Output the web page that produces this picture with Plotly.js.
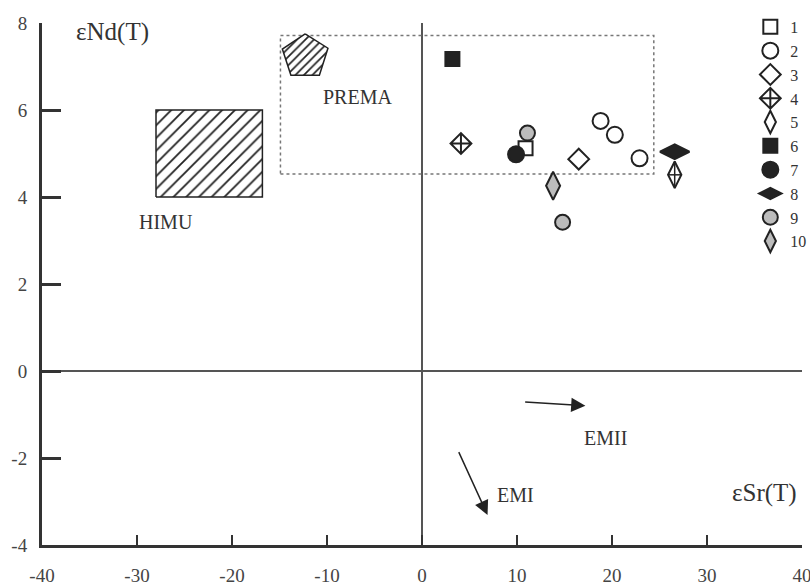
<!DOCTYPE html>
<html>
<head>
<meta charset="utf-8">
<script src="https://cdn.plot.ly/plotly-3.0.1.min.js"></script>
<style>html,body{margin:0;padding:0;background:#fff;}#chart{width:810px;height:585px;}</style>
</head>
<body>
<div id="chart"></div>
<script>
// ---- data ----
const seriesNames = ['1','2','3','4','5','6','7','8','9','10'];
const s1x = [10.9],              s1y = [5.12];
const s2x = [18.8, 20.3, 22.9],  s2y = [5.75, 5.43, 4.89];
const s3x = [16.5],              s3y = [4.87];
const s4x = [4.1],               s4y = [5.23];
const s5x = [26.6],              s5y = [4.51];
const s6x = [3.2],               s6y = [7.17];
const s7x = [9.9],               s7y = [4.98];
const s8x = [26.6],              s8y = [5.04];
const s9x = [11.1, 14.8],        s9y = [5.47, 3.42];
const s10x = [13.8],             s10y = [4.26];

const himuX = [-28, -16.8, -16.8, -28, -28];
const himuY = [4, 4, 6, 6, 4];
const premaBoxX = [-14.9, 24.4, 24.4, -14.9, -14.9];
const premaBoxY = [4.53, 4.53, 7.71, 7.71, 4.53];
const premaPentX = [-12.3, -9.9, -10.8, -13.8, -14.7, -12.3];
const premaPentY = [7.75, 7.42, 6.80, 6.80, 7.40, 7.75];

const xTicks = [-40, -30, -20, -10, 0, 10, 20, 30, 40];
const yTicks = [-4, -2, 0, 2, 4, 6, 8];

const labelText = ['HIMU', 'PREMA', 'EMII', 'EMI'];
const labelX = [-26.9, -6.8, 19.3, 9.8];
const labelY = [3.43, 6.30, -1.54, -2.85];

const axisTitleText = ['εNd(T)', 'εSr(T)'];
const axisTitleX = [-32.6, 36.0];
const axisTitleY = [7.79, -2.80];

const arrowHeadX = [17.2, 6.9], arrowHeadY = [-0.80, -3.31];
const arrowTailX = [10.7, 3.8], arrowTailY = [-0.71, -1.83];

// ---- styles ----
const INK = '#222';
const GREY = '#bcbcbc';
const FONT = 'Liberation Serif, Times New Roman, serif';

function pt(name, x, y, symbol, size, color, extra) {
  return Object.assign({
    type: 'scatter', mode: 'markers', name: name, x: x, y: y,
    marker: {symbol: symbol, size: size, color: color, line: {color: INK, width: 2}},
    legendgroup: name, cliponaxis: false
  }, extra || {});
}

const traces = [
  {type:'scatter', mode:'lines', x: premaBoxX, y: premaBoxY, showlegend:false, hoverinfo:'skip',
   line:{color:'#777', width:1.5, dash:'dot'}},
  {type:'scatter', mode:'lines', x: himuX, y: himuY, fill:'toself', showlegend:false, hoverinfo:'skip',
   fillcolor:'rgba(255,255,255,0)',
   fillpattern:{shape:'/', size:9, solidity:0.2, fgcolor:INK, bgcolor:'#fff'},
   line:{color:INK, width:1.5}},
  {type:'scatter', mode:'lines', x: premaPentX, y: premaPentY, fill:'toself', showlegend:false, hoverinfo:'skip',
   fillcolor:'rgba(255,255,255,0)',
   fillpattern:{shape:'/', size:6, solidity:0.28, fgcolor:INK, bgcolor:'#fff'},
   line:{color:INK, width:1.5}},
  pt(seriesNames[0], s1x, s1y, 'square', 14, '#fff'),
  pt(seriesNames[1], s2x, s2y, 'circle', 16, '#fff'),
  pt(seriesNames[2], s3x, s3y, 'diamond', 16, '#fff'),
  pt(seriesNames[3], s4x, s4y, 'diamond-cross', 16, '#fff'),
  pt(seriesNames[4], s5x, s5y, 'diamond-tall', 19, '#fff'),
  pt(seriesNames[4], s5x, s5y, 'line-ns', 19, '#fff', {showlegend:false, marker:{symbol:'line-ns', size:19, line:{color:INK, width:1.5}}}),
  pt(seriesNames[4], s5x, s5y, 'line-ew', 9, '#fff', {showlegend:false, marker:{symbol:'line-ew', size:9, line:{color:INK, width:1.5}}}),
  pt(seriesNames[5], s6x, s6y, 'square', 14, INK),
  pt(seriesNames[6], s7x, s7y, 'circle', 16, INK),
  pt(seriesNames[7], s8x, s8y, 'diamond-wide', 21, INK),
  pt(seriesNames[8], s9x, s9y, 'circle', 15, GREY),
  pt(seriesNames[9], s10x, s10y, 'diamond-tall', 20, GREY)
];

const annotations = [];
labelText.forEach(function(t, i){
  annotations.push({x: labelX[i], y: labelY[i], xref:'x', yref:'y', text: t, showarrow:false,
    font:{family:FONT, size:20, color:'#333'}});
});
axisTitleText.forEach(function(t, i){
  annotations.push({x: axisTitleX[i], y: axisTitleY[i], xref:'x', yref:'y', text: t, showarrow:false,
    font:{family:FONT, size:25, color:'#333'}});
});
arrowHeadX.forEach(function(hx, i){
  annotations.push({x: hx, y: arrowHeadY[i], ax: arrowTailX[i], ay: arrowTailY[i],
    xref:'x', yref:'y', axref:'x', ayref:'y', text:'', showarrow:true,
    arrowhead:2, arrowsize:1.9, arrowwidth:1.5, arrowcolor:INK, standoff:0, startstandoff:0});
});

const layout = {
  width: 810, height: 585,
  margin: {l: 42, r: 8, t: 23, b: 40, autoexpand: false},
  paper_bgcolor: '#fff', plot_bgcolor: '#fff',
  font: {family: FONT, color: '#333'},
  showlegend: true,
  legend: {x: 0.932, xanchor: 'left', y: 1.025, yanchor: 'top',
    font: {family: FONT, size: 16, color: '#333'}, bgcolor: 'rgba(255,255,255,0)',
    tracegroupgap: 0, itemwidth: 30},
  xaxis: {range: [-40, 40], tickvals: xTicks, ticktext: xTicks.map(String),
    ticks: 'inside', ticklen: 10, tickwidth: 2, tickcolor: '#333',
    showline: true, linewidth: 2.5, linecolor: '#333', mirror: false,
    showgrid: false, zeroline: true, zerolinecolor: '#555', zerolinewidth: 1.5,
    tickfont: {family: FONT, size: 19, color: '#444'}, ticklabelstandoff: 12,
    ticklabeloverflow: 'allow', fixedrange: true},
  yaxis: {range: [-4, 8], tickvals: yTicks, ticktext: yTicks.map(String),
    ticks: 'inside', ticklen: 19, tickwidth: 3, tickcolor: '#333',
    showline: true, linewidth: 3, linecolor: '#333', mirror: false,
    showgrid: false, zeroline: true, zerolinecolor: '#555', zerolinewidth: 1.5,
    tickfont: {family: FONT, size: 19, color: '#444'}, ticklabelstandoff: 8,
    ticklabeloverflow: 'allow', fixedrange: true},
  annotations: annotations
};

Plotly.newPlot('chart', traces, layout, {staticPlot: true, displayModeBar: false});
</script>
</body>
</html>
